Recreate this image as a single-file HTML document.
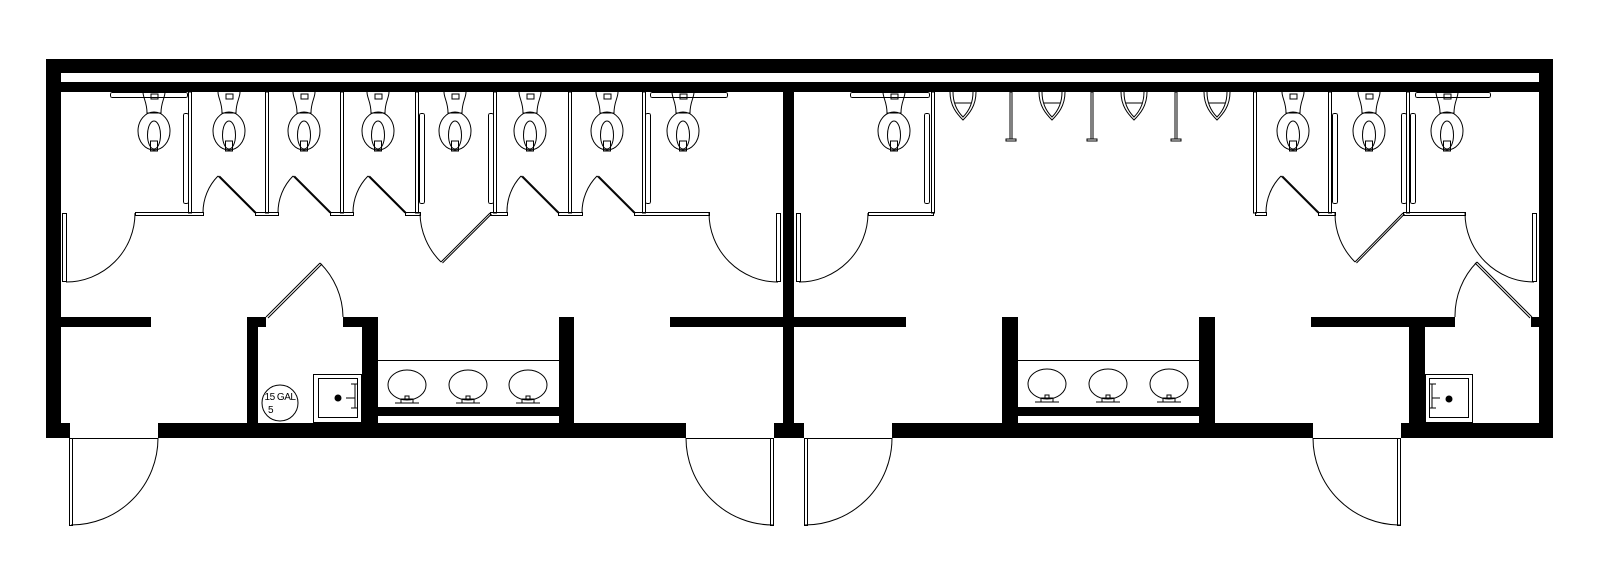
<!DOCTYPE html>
<html><head><meta charset="utf-8"><style>
html,body{margin:0;padding:0;background:#fff;width:1600px;height:580px;overflow:hidden}
svg{display:block}
</style></head><body>
<svg width="1600" height="580" viewBox="0 0 1600 580" xmlns="http://www.w3.org/2000/svg">
<defs>
<g id="toilet" fill="none" stroke="#000" stroke-width="1">
<path d="M-11,0 C-11,6 -7,10 -7,21 L7,21 C7,10 11,6 11,0"/>
<rect x="-3" y="2" width="7" height="5"/>
<ellipse cx="0" cy="39" rx="16" ry="19"/>
<ellipse cx="0" cy="43" rx="6.5" ry="14"/>
<rect x="-3.5" y="49" width="7" height="10"/>
</g>
<g id="urinal" fill="none" stroke="#000" stroke-width="1">
<path d="M-13,0 C-13,14 -6,22 0,28 C6,22 13,14 13,0"/>
<path d="M-10,0 C-10,12 -5,20 0,25 C5,20 10,12 10,0"/>
<path d="M-8,11 L8,11"/>
</g>
<g id="screen" fill="none" stroke="#000" stroke-width="1">
<rect x="-1" y="0" width="2" height="47"/>
<rect x="-5" y="47" width="10" height="2"/>
</g>
<g id="sink" fill="none" stroke="#000" stroke-width="1">
<ellipse cx="0" cy="0" rx="19" ry="15"/>
<path d="M-12,18 L12,18"/>
<rect x="-6" y="14" width="12" height="4"/>
<rect x="-2" y="11" width="4" height="3"/>
</g>
</defs>

<!-- outer walls -->
<g fill="#000">
<rect x="46" y="59" width="1507" height="33"/>
<rect x="46" y="59" width="15" height="379"/>
<rect x="1539" y="59" width="14" height="379"/>
<!-- bottom segments -->
<rect x="46" y="423" width="24" height="15"/>
<rect x="158" y="423" width="528" height="15"/>
<rect x="774" y="423" width="30" height="15"/>
<rect x="892" y="423" width="421" height="15"/>
<rect x="1401" y="423" width="152" height="15"/>
<!-- center wall -->
<rect x="783" y="92" width="11" height="331"/>
<!-- partitions -->
<rect x="61" y="317" width="90" height="10"/>
<rect x="247" y="317" width="11" height="106"/>
<rect x="247" y="317" width="19" height="10"/>
<rect x="343" y="317" width="19" height="10"/>
<rect x="362" y="317" width="16" height="106"/>
<rect x="559" y="317" width="15" height="106"/>
<rect x="378" y="407" width="181" height="9"/>
<rect x="670" y="317" width="236" height="10"/>
<rect x="1002" y="317" width="16" height="106"/>
<rect x="1199" y="317" width="16" height="106"/>
<rect x="1018" y="407" width="181" height="9"/>
<rect x="1311" y="317" width="144" height="10"/>
<rect x="1409" y="317" width="16" height="106"/>
<rect x="1531" y="317" width="8" height="10"/>
</g>
<rect x="61" y="73" width="1478" height="9" fill="#fff"/>

<g fill="none" stroke="#000" stroke-width="1" shape-rendering="crispEdges">
<!-- stall partitions -->
<rect x="188.5" y="92" width="3" height="121"/>
<rect x="265.5" y="92" width="3" height="121"/>
<rect x="340.5" y="92" width="3" height="121"/>
<rect x="415.5" y="92" width="3" height="121"/>
<rect x="493.5" y="92" width="3" height="121"/>
<rect x="568.5" y="92" width="3" height="121"/>
<rect x="642.5" y="92" width="3" height="121"/>
<rect x="931.5" y="92" width="3" height="121"/>
<rect x="1253.5" y="92" width="3" height="121"/>
<rect x="1328.5" y="92" width="3" height="121"/>
<rect x="1406.5" y="92" width="3" height="121"/>
<!-- front lines -->
<rect x="135.5" y="212.5" width="68" height="3"/>
<rect x="255.5" y="212.5" width="23" height="3"/>
<rect x="330.5" y="212.5" width="23" height="3"/>
<rect x="405.5" y="212.5" width="15" height="3"/>
<rect x="490.5" y="212.5" width="17" height="3"/>
<rect x="558.5" y="212.5" width="24" height="3"/>
<rect x="634.5" y="212.5" width="75" height="3"/>
<rect x="868.5" y="212.5" width="65" height="3"/>
<rect x="1255.5" y="212.5" width="11" height="3"/>
<rect x="1318.5" y="212.5" width="17" height="3"/>
<rect x="1403.5" y="212.5" width="62" height="3"/>
<!-- outward stall door leaves -->
<rect x="62.5" y="213.5" width="4" height="68"/>
<rect x="776.5" y="213.5" width="4" height="68"/>
<rect x="796.5" y="213.5" width="4" height="68"/>
<rect x="1532.5" y="213.5" width="4" height="68"/>
<!-- grab bars -->
<rect x="183.5" y="113.5" width="5" height="90" rx="2"/>
<rect x="419.5" y="113.5" width="5" height="90" rx="2"/>
<rect x="488.5" y="113.5" width="5" height="90" rx="2"/>
<rect x="645.5" y="113.5" width="5" height="90" rx="2"/>
<rect x="924.5" y="113.5" width="5" height="90" rx="2"/>
<rect x="1332.5" y="113.5" width="5" height="90" rx="2"/>
<rect x="1401.5" y="113.5" width="5" height="90" rx="2"/>
<rect x="1410.5" y="113.5" width="5" height="90" rx="2"/>
<rect x="110.5" y="92.5" width="77" height="5" rx="2"/>
<rect x="650.5" y="92.5" width="77" height="5" rx="2"/>
<rect x="850.5" y="92.5" width="79" height="5" rx="2"/>
<rect x="1415.5" y="92.5" width="75" height="5" rx="2"/>
<!-- bottom door leaves -->
<rect x="69.5" y="438.5" width="3" height="87"/>
<rect x="770.5" y="438.5" width="3" height="87"/>
<rect x="804.5" y="438.5" width="3" height="87"/>
<rect x="1397.5" y="438.5" width="3" height="87"/>
<path d="M70,438.5 H158 M686,438.5 H774 M804,438.5 H892 M1313,438.5 H1401"/>
<!-- counters -->
<path d="M378,360.5 H559 M1018,360.5 H1199"/>
<!-- janitor sinks -->
<rect x="313.5" y="374.5" width="48" height="48"/>
<rect x="318.5" y="378.5" width="39" height="39"/>
<rect x="1425.5" y="374.5" width="47" height="48"/>
<rect x="1429.5" y="378.5" width="39" height="39"/>
</g>

<g fill="none" stroke="#000" stroke-width="1">
<!-- inward stall doors -->
<path d="M255,213 L218,176 M256.5,213 L219.5,176 M218,176 A52 52 0 0 0 203,213"/>
<path d="M330,213 L293,176 M331.5,213 L294.5,176 M293,176 A52 52 0 0 0 278,213"/>
<path d="M405,213 L368,176 M406.5,213 L369.5,176 M368,176 A52 52 0 0 0 353,213"/>
<path d="M558,213 L521,176 M559.5,213 L522.5,176 M521,176 A52 52 0 0 0 507,213"/>
<path d="M634,213 L597,176 M635.5,213 L598.5,176 M597,176 A52 52 0 0 0 582,213"/>
<path d="M1318,213 L1281,176 M1319.5,213 L1282.5,176 M1281,176 A52 52 0 0 0 1266,213"/>
<!-- outward stall doors -->
<path d="M490,213 L441,262 M491.5,214 L442.5,263 M420,213 A70 70 0 0 0 441,262"/>
<path d="M1403,213 L1355,262 M1404.5,214 L1356.5,263 M1335,213 A68 68 0 0 0 1355,262"/>
<path d="M135,213 A69 69 0 0 1 66,282"/>
<path d="M709,213 A69 69 0 0 0 778,282"/>
<path d="M868,213 A69 69 0 0 1 799,282"/>
<path d="M1465,213 A69 69 0 0 0 1534,282"/>
<!-- closet doors -->
<path d="M266,317 L320,263 M268,318 L322,264 M320,263 A77 77 0 0 1 343,317"/>
<path d="M1532,317 L1477,262 M1530,318 L1475,263 M1477,262 A77 77 0 0 0 1455,317"/>
<!-- bottom door arcs -->
<path d="M158,438 A87 87 0 0 1 71,525"/>
<path d="M686,438 A87 87 0 0 0 773,525"/>
<path d="M892,438 A87 87 0 0 1 805,525"/>
<path d="M1313,438 A87 87 0 0 0 1400,525"/>
<!-- water heater -->
<circle cx="280" cy="403" r="18"/>
<!-- faucets janitor -->
<path d="M355,384 V408 M346,398 H355 M351,384 H358 M351,408 H358"/>
<path d="M1432,384 V408 M1432,398 H1440 M1429,384 H1436 M1429,408 H1436"/>
</g>
<circle cx="338" cy="398" r="3.5" fill="#000"/>
<circle cx="1449" cy="399" r="3.5" fill="#000"/>
<text x="280" y="400" font-family="Liberation Sans, sans-serif" font-size="10" text-anchor="middle" letter-spacing="-0.5">15 GAL</text>
<text x="268" y="413" font-family="Liberation Sans, sans-serif" font-size="10">5</text>

<!-- toilets -->
<use href="#toilet" x="154" y="92"/>
<use href="#toilet" x="229" y="92"/>
<use href="#toilet" x="304" y="92"/>
<use href="#toilet" x="378" y="92"/>
<use href="#toilet" x="455" y="92"/>
<use href="#toilet" x="530" y="92"/>
<use href="#toilet" x="607" y="92"/>
<use href="#toilet" x="683" y="92"/>
<use href="#toilet" x="894" y="92"/>
<use href="#toilet" x="1293" y="92"/>
<use href="#toilet" x="1369" y="92"/>
<use href="#toilet" x="1447" y="92"/>
<!-- urinals -->
<use href="#urinal" x="963" y="92"/>
<use href="#urinal" x="1052" y="92"/>
<use href="#urinal" x="1134" y="92"/>
<use href="#urinal" x="1217" y="92"/>
<use href="#screen" x="1011" y="92"/>
<use href="#screen" x="1092" y="92"/>
<use href="#screen" x="1176" y="92"/>
<!-- lav sinks -->
<use href="#sink" x="407" y="385"/>
<use href="#sink" x="468" y="385"/>
<use href="#sink" x="528" y="385"/>
<use href="#sink" x="1047" y="384"/>
<use href="#sink" x="1108" y="384"/>
<use href="#sink" x="1169" y="384"/>
</svg>
</body></html>
